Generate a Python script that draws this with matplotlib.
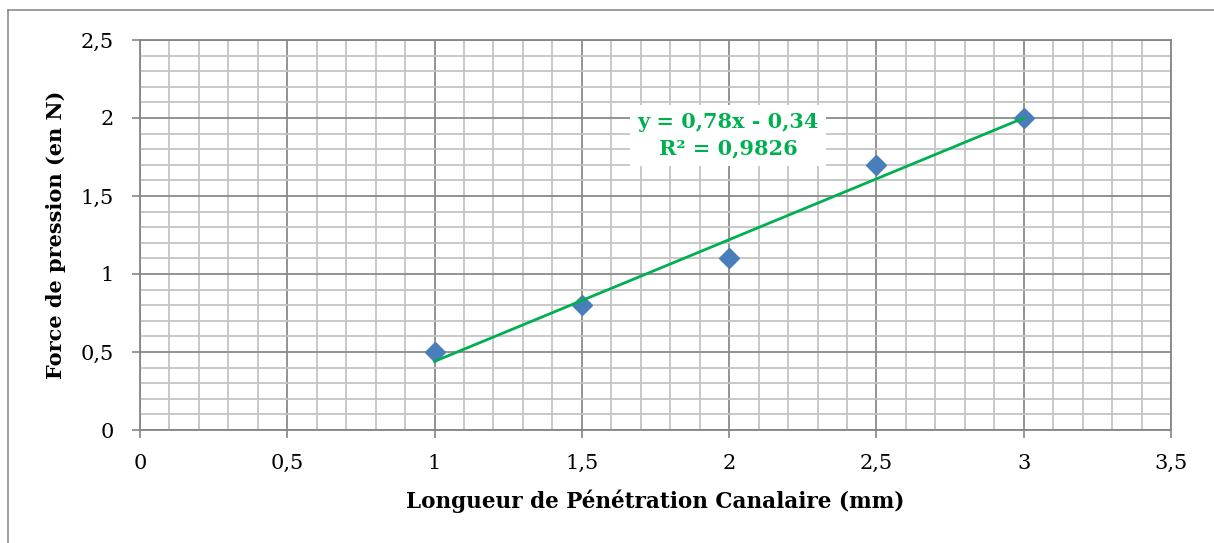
import numpy as np
import matplotlib
matplotlib.use("Agg")
import matplotlib.pyplot as plt
from matplotlib.lines import Line2D
from matplotlib.ticker import MultipleLocator, FuncFormatter

# Measurements
longueur = [1.0, 1.5, 2.0, 2.5, 3.0]      # mm
force = [0.5, 0.8, 1.1, 1.7, 2.0]         # N

x_label = "Longueur de Pénétration Canalaire (mm)"
y_label = "Force de pression (en N)"

plt.rcParams["font.family"] = ["DejaVu Serif"]

W, H = 1214, 543
fig = plt.figure(figsize=(W / 100, H / 100), dpi=100)
ax = fig.add_axes([140 / W, 1 - 430 / H, (1171 - 140) / W, (430 - 40) / H])

# Grid
ax.set_xlim(0, 3.5)
ax.set_ylim(0, 2.5)
ax.xaxis.set_major_locator(MultipleLocator(0.5))
ax.yaxis.set_major_locator(MultipleLocator(0.5))
ax.xaxis.set_minor_locator(MultipleLocator(0.1))
ax.yaxis.set_minor_locator(MultipleLocator(0.1))
ax.grid(which="minor", color="#c4c4c4", lw=1.3, zorder=0)
ax.grid(which="major", color="#8a8a8a", lw=1.3, zorder=0)
ax.set_axisbelow(True)

fmt = FuncFormatter(lambda v, p: (f"{v:g}").replace(".", ","))
ax.xaxis.set_major_formatter(fmt)
ax.yaxis.set_major_formatter(fmt)
ax.tick_params(which="major", direction="out", length=6, width=1.2,
               color="#868686", labelsize=15)
ax.tick_params(axis="x", which="major", pad=11)
ax.tick_params(axis="y", which="major", pad=13)
ax.tick_params(which="minor", length=0)
for side in ["left", "bottom", "right", "top"]:
    ax.spines[side].set_color("#868686")
    ax.spines[side].set_linewidth(1.3)

# Data points
ax.plot(longueur, force, linestyle="none", marker="D", ms=10,
        color="#4a7ebb", zorder=3)

# Linear trendline
slope, intercept = np.polyfit(longueur, force, 1)
pred = slope * np.array(longueur) + intercept
ss_res = np.sum((np.array(force) - pred) ** 2)
ss_tot = np.sum((np.array(force) - np.mean(force)) ** 2)
r2 = 1 - ss_res / ss_tot
xt = np.array([min(longueur), max(longueur)])
ax.plot(xt, slope * xt + intercept, color="#00b050", lw=2, zorder=4)

sign = "-" if intercept < 0 else "+"
eq = f"y = {slope:.2f}x {sign} {abs(intercept):.2f}".replace(".", ",")
r2txt = f"R² = {r2:.4f}".replace(".", ",")
ax.text(1.996, 1.888, eq + "\n" + r2txt, ha="center", va="center",
        fontsize=15, fontweight="bold", color="#00b050", linespacing=1.4,
        bbox=dict(facecolor="white", edgecolor="none", pad=5), zorder=5)

ax.set_xlabel(x_label, fontsize=15.5, fontweight="bold", labelpad=12)
ax.set_ylabel(y_label, fontsize=15, fontweight="bold", labelpad=10)

# Outer chart frame
fig.add_artist(Line2D([8 / W, 8 / W], [0, 1 - 10 / H], transform=fig.transFigure,
                      color="#8c8c8c", lw=1.2))
fig.add_artist(Line2D([8 / W, 1], [1 - 10 / H, 1 - 10 / H], transform=fig.transFigure,
                      color="#8c8c8c", lw=1.2))

fig.savefig("out.png", dpi=100, facecolor="white")
